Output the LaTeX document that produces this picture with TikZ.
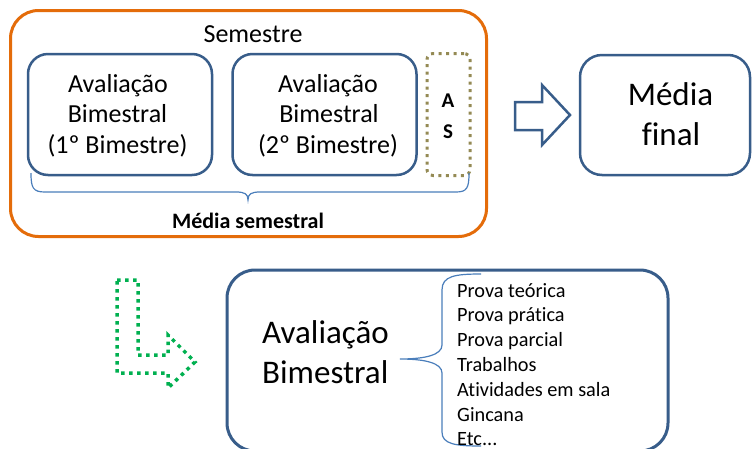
\documentclass[tikz,border=0pt]{standalone}
\usepackage{fontspec}
\setmainfont{Carlito}[Ligatures=NoCommon]
\definecolor{orng}{RGB}{228,108,10}
\definecolor{bxblue}{RGB}{56,93,138}
\definecolor{brblue}{RGB}{74,126,187}
\definecolor{olivec}{RGB}{148,138,84}
\definecolor{grn}{RGB}{0,176,80}
\begin{document}
\begin{tikzpicture}[x=1pt,y=-1pt,
  bluebox/.style={draw=bxblue,line width=2.5pt,rounded corners=20pt,inner sep=0pt},
  mtxt/.style={inner sep=0pt,anchor=base,font=\fontsize{26}{30}\selectfont},
  btxt/.style={inner sep=0pt,anchor=base,font=\fontsize{33}{40}\selectfont},
  ltxt/.style={inner sep=0pt,anchor=base west,font=\fontsize{20.3}{24}\selectfont},
  astxt/.style={inner sep=0pt,anchor=base,font=\fontsize{21}{24}\selectfont\bfseries},
  bracestyle/.style={draw=brblue,line width=1.2pt}]
\useasboundingbox (0,0) rectangle (753,448);
\fill[white] (0,0) rectangle (753,448);
% semester frame
\node[draw=orng,line width=3pt,rounded corners=28pt,minimum width=476pt,minimum height=226pt,inner sep=0pt] (sem) at (248.5,123.5) {};
\node[mtxt] (semt) at (253,42) {Semestre};
% bimester boxes
\node[bluebox,minimum width=184pt,minimum height=121pt] (b1) at (120,114.5) {};
\node[bluebox,minimum width=184pt,minimum height=121pt] (b2) at (324.5,114.5) {};
\node[mtxt] (b1a) at (118,92) {Avaliação};
\node[mtxt] (b1b) at (117.5,122) {Bimestral};
\node[mtxt] (b1c) at (117.5,153) {(1º Bimestre)};
\node[mtxt] (b2a) at (328,92) {Avaliação};
\node[mtxt] (b2b) at (329,122) {Bimestral};
\node[mtxt] (b2c) at (328,153) {(2º Bimestre)};
% AS box
\node[draw=olivec,line width=3pt,dash pattern=on 3pt off 4.5pt,rounded corners=6pt,minimum width=43pt,minimum height=122pt,inner sep=0pt] (as) at (448.5,114.5) {};
\node[astxt] (asa) at (448,107) {A};
\node[astxt] (ass) at (448,138) {S};
% brace under boxes
\draw[bracestyle] (31,173) .. controls (31,188) and (33,192) .. (45,192) -- (236,192) .. controls (245,192) and (248,194) .. (248,200) .. controls (248,194) and (251,192) .. (260,192) -- (456,192) .. controls (467,192) and (469,188) .. (469,173);
\node[inner sep=0pt,anchor=base,font=\fontsize{22}{24}\selectfont\bfseries] (ms) at (248,228) {Média semestral};
% block arrow
\draw[draw=bxblue,line width=2.5pt,fill=white,line join=miter] (515,102) -- (542,102) -- (542,85) -- (570,115) -- (542,145) -- (542,130) -- (515,130) -- cycle;
% media final
\node[bluebox,rounded corners=22pt,minimum width=170pt,minimum height=120pt] (mf) at (665,115) {};
\node[btxt] (mfa) at (670.5,105) {Média};
\node[btxt] (mfb) at (671,145) {final};
% green L arrow
\draw[grn,line width=3.5pt,dash pattern=on 3.5pt off 4.5pt,line join=miter] (117,280) -- (138,280) -- (138,355) -- (168,355) -- (168,335) -- (195,362) -- (168,388) -- (168,373) -- (117,373) -- cycle;
% bottom box
\node[draw=bxblue,line width=3pt,rounded corners=28pt,minimum width=441pt,minimum height=181pt,inner sep=0pt] (bb) at (447.5,360.5) {};
\node[btxt,anchor=base west] (bba) at (262,343) {Avaliação};
\node[btxt,anchor=base west] (bbb) at (262,383) {Bimestral};
% bottom brace
\draw[bracestyle] (481,274) .. controls (455,274) and (442,276) .. (442,290) -- (442,345) .. controls (442,355) and (425,359) .. (400,359) .. controls (425,359) and (442,363) .. (442,373) -- (442,432) .. controls (442,444) and (455,446) .. (481,446);
% list
\node[ltxt] (l1) at (457,297) {Prova teórica};
\node[ltxt] (l2) at (457,321.8) {Prova prática};
\node[ltxt] (l3) at (457,346.6) {Prova parcial};
\node[ltxt] (l4) at (457,371.4) {Trabalhos};
\node[ltxt] (l5) at (457,396.2) {Atividades em sala};
\node[ltxt] (l6) at (457,421) {Gincana};
\node[ltxt] (l7) at (457,445.8) {Etc...};
\end{tikzpicture}
\end{document}
